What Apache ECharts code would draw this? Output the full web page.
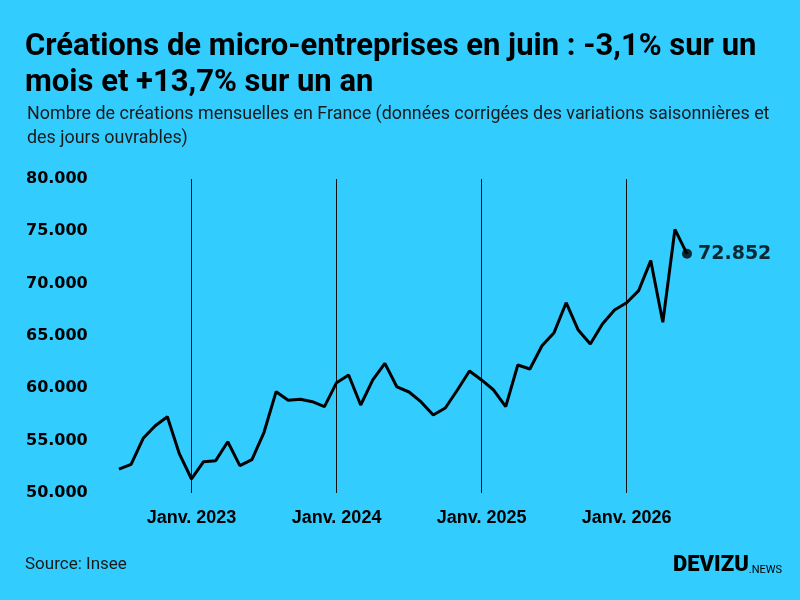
<!DOCTYPE html>
<html>
<head>
<meta charset="utf-8">
<script src="https://cdn.jsdelivr.net/npm/echarts@6/dist/echarts.min.js"></script>
<style>html,body{margin:0;padding:0;background:#33ccff;}#c{width:800px;height:600px;}</style>
</head>
<body>
<div id="c"></div>
<script>
// Months (Jul 2022 – Jun 2026)
const months = [
  '2022-07','2022-08','2022-09','2022-10','2022-11','2022-12',
  '2023-01','2023-02','2023-03','2023-04','2023-05','2023-06','2023-07','2023-08','2023-09','2023-10','2023-11','2023-12',
  '2024-01','2024-02','2024-03','2024-04','2024-05','2024-06','2024-07','2024-08','2024-09','2024-10','2024-11','2024-12',
  '2025-01','2025-02','2025-03','2025-04','2025-05','2025-06','2025-07','2025-08','2025-09','2025-10','2025-11','2025-12',
  '2026-01','2026-02','2026-03','2026-04','2026-05','2026-06'
];
// Monthly micro-enterprise creations
const creations = [
  52290, 52740, 55230, 56430, 57290, 53730,
  51340, 52990, 53090, 54900, 52610, 53190, 55800, 59680, 58860, 58950, 58720, 58250,
  60540, 61270, 58410, 60800, 62390, 60130, 59650, 58700, 57450, 58120, 59840, 61660,
  60800, 59840, 58250, 62230, 61850, 64074, 65320, 68180, 65570, 64240, 66150, 67490,
  68180, 69330, 72200, 66310, 75180, 72852
];
const yTicks = [50000, 55000, 60000, 65000, 70000, 75000, 80000];

function fmt(v){ return String(Math.round(v)).replace(/\B(?=(\d{3})+(?!\d))/g, '.'); }

const chart = echarts.init(document.getElementById('c'));
const lastIdx = creations.length - 1;
chart.setOption({
  backgroundColor: '#33ccff',
  animation: false,
  title: [
    {
      text: 'Créations de micro-entreprises en juin : -3,1% sur un\nmois et +13,7% sur un an',
      left: 25, top: 29, padding: 0,
      textStyle: {fontFamily: 'Roboto', fontWeight: 'bold', fontSize: 31, lineHeight: 36, color: '#000'}
    },
    {
      text: 'Nombre de créations mensuelles en France (données corrigées des variations saisonnières et\ndes jours ouvrables)',
      left: 27, top: 103, padding: 0,
      textStyle: {fontFamily: 'Roboto', fontWeight: 'normal', fontSize: 17.9, lineHeight: 24, color: '#1a1a1a'}
    },
    {
      text: 'Source: Insee',
      left: 25, top: 556, padding: 0,
      textStyle: {fontFamily: 'Roboto', fontWeight: 'normal', fontSize: 17, color: '#1a1a1a'}
    }
  ],
  graphic: [{
    type: 'text', left: 673, top: 554,
    style: {
      text: '{a|DEVIZU}{b|.NEWS}',
      rich: {
        a: {fontFamily: 'Roboto', fontWeight: 900, fontSize: 22, fill: '#000', verticalAlign: 'bottom', lineHeight: 24},
        b: {fontFamily: 'Roboto', fontWeight: 'normal', fontSize: 11, fill: '#000', verticalAlign: 'bottom', lineHeight: 20}
      }
    }
  }],
  grid: {left: 119, right: 113, top: 179, bottom: 107},
  xAxis: {
    type: 'category',
    data: months,
    boundaryGap: false,
    axisLine: {show: false},
    axisTick: {show: false},
    splitLine: {
      show: true,
      interval: (i, v) => v.endsWith('-01'),
      lineStyle: {color: '#111', width: 1}
    },
    axisLabel: {
      interval: (i, v) => v.endsWith('-01'),
      formatter: v => 'Janv. ' + v.slice(0, 4),
      margin: 16,
      fontFamily: 'Liberation Sans', fontWeight: 'bold', fontSize: 18, color: '#000'
    }
  },
  yAxis: {
    type: 'value',
    min: yTicks[0], max: yTicks[yTicks.length - 1], interval: 5000,
    axisLine: {show: false}, axisTick: {show: false},
    splitLine: {show: false},
    axisLabel: {
      align: 'left', margin: 93,
      formatter: v => fmt(v),
      fontFamily: 'DejaVu Sans', fontWeight: 'bold', fontSize: 16, color: '#000'
    }
  },
  series: [
    {
      type: 'line',
      data: creations,
      showSymbol: false,
      lineStyle: {color: '#000', width: 3},
      itemStyle: {color: '#000'},
      z: 3
    },
    {
      type: 'scatter',
      data: [[months[lastIdx], creations[lastIdx]]],
      symbol: 'circle', symbolSize: 10,
      itemStyle: {color: '#000'},
      label: {
        show: true, position: 'right', distance: 6,
        formatter: p => fmt(p.value[1]),
        fontFamily: 'DejaVu Sans', fontWeight: 'bold', fontSize: 19, color: '#000'
      },
      z: 4
    }
  ]
});
</script>
</body>
</html>
